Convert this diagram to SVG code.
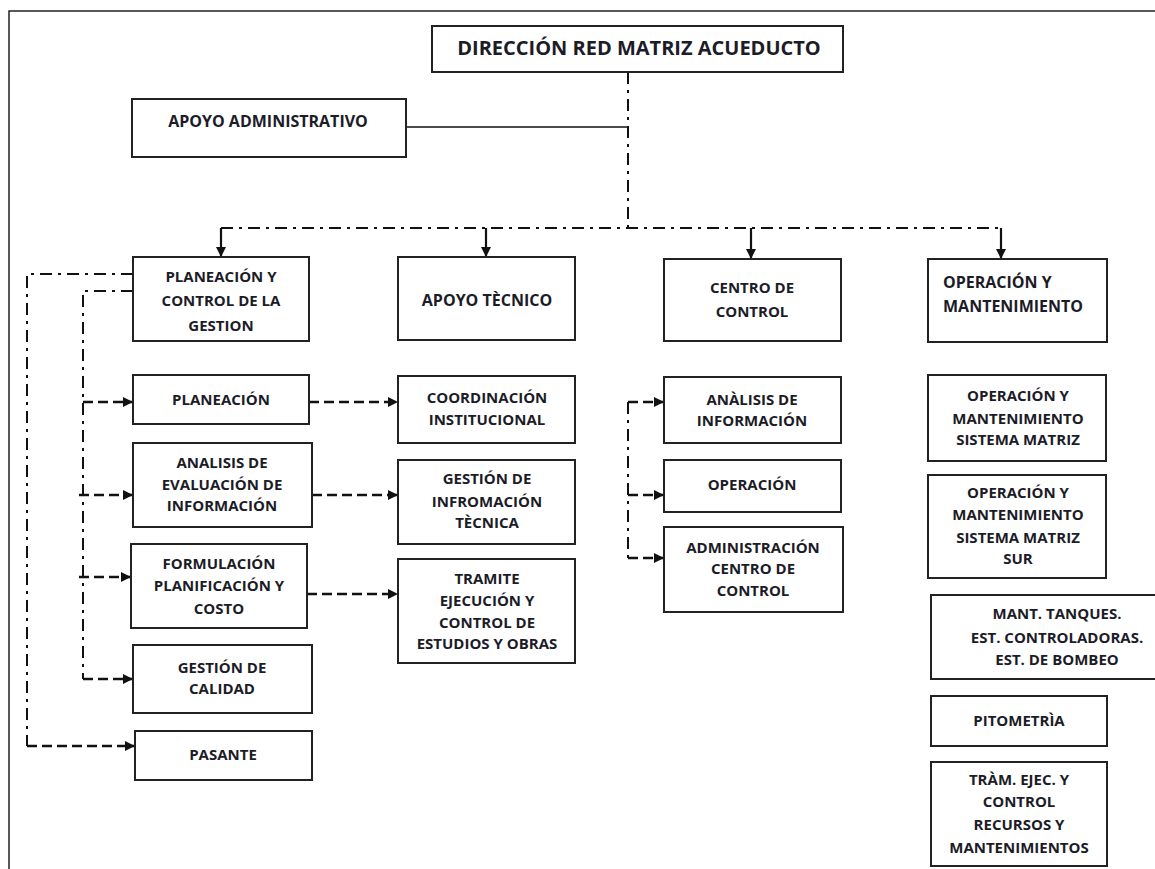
<svg xmlns="http://www.w3.org/2000/svg" width="1155" height="869" viewBox="0 0 1155 869">
<style>
.box{fill:#fff;stroke:#222;stroke-width:2}
.t{font-family:"Open Sans","Liberation Sans",sans-serif;font-weight:700;font-size:15px;fill:#1c1c28;text-anchor:middle}
.title{font-size:20px}
.big{font-size:16px}
.start{text-anchor:start}
.solid{fill:none;stroke:#111;stroke-width:1.6}
.dd{fill:none;stroke:#111;stroke-width:2;stroke-dasharray:12 6 3 6}
.dash{fill:none;stroke:#111;stroke-width:2.6;stroke-dasharray:10 5}
.drop{fill:none;stroke:#111;stroke-width:2.2}
</style>
<defs>
<marker id="ah" markerUnits="userSpaceOnUse" markerWidth="11" markerHeight="10" refX="10" refY="5" orient="auto">
<path d="M0,0 L10,5 L0,10 z" fill="#111"/>
</marker>
</defs>
<rect width="1155" height="869" fill="#fff"/>
<path d="M9,869 V11 H1155" fill="none" stroke="#222" stroke-width="1.5"/>

<g id="connectors">
<path class="dd" d="M628,72 V228"/>
<path class="solid" d="M406,127 H628"/>
<path class="dd" d="M221,228 H1001"/>
<path class="drop" d="M221,228 V257" marker-end="url(#ah)"/>
<path class="drop" d="M486,228 V257" marker-end="url(#ah)"/>
<path class="drop" d="M751,228 V259" marker-end="url(#ah)"/>
<path class="drop" d="M1001,228 V259" marker-end="url(#ah)"/>
<path class="dd" d="M133,274 H27 V746"/>
<path class="dash" d="M27,746 H135" marker-end="url(#ah)"/>
<path class="dd" d="M133,291 H83 V679"/>
<path class="dash" d="M83,402 H133" marker-end="url(#ah)"/>
<path class="dash" d="M79,495 H133" marker-end="url(#ah)"/>
<path class="dash" d="M79,577 H131" marker-end="url(#ah)"/>
<path class="dash" d="M83,679 H133" marker-end="url(#ah)"/>
<path class="dash" d="M309,402 H398" marker-end="url(#ah)"/>
<path class="dash" d="M312,495 H398" marker-end="url(#ah)"/>
<path class="dash" d="M307,594 H398" marker-end="url(#ah)"/>
<path class="dd" d="M628,402 V558"/>
<path class="dash" d="M628,402 H664" marker-end="url(#ah)"/>
<path class="dash" d="M628,495 H664" marker-end="url(#ah)"/>
<path class="dash" d="M628,558 H664" marker-end="url(#ah)"/>
</g>

<g id="direccion"><rect class="box" x="432" y="26" width="411" height="46"/><text class="t title" x="639" y="55">DIRECCIÓN RED MATRIZ ACUEDUCTO</text></g>
<g id="apoyo-admin"><rect class="box" x="132" y="99" width="274" height="58"/><text class="t big" x="268" y="127">APOYO ADMINISTRATIVO</text></g>

<g id="planeacion-control"><rect class="box" x="133" y="257" width="176" height="84"/><text class="t" x="221" y="282">PLANEACIÓN Y</text><text class="t" x="221" y="306">CONTROL DE LA</text><text class="t" x="221" y="331">GESTION</text></g>
<g id="apoyo-tecnico"><rect class="box" x="398" y="257" width="177" height="83"/><text class="t big" x="487" y="306">APOYO TÈCNICO</text></g>
<g id="centro-control"><rect class="box" x="664" y="259" width="177" height="82"/><text class="t" x="752" y="293">CENTRO DE</text><text class="t" x="752" y="317">CONTROL</text></g>
<g id="operacion-mant"><rect class="box" x="928" y="259" width="179" height="83"/><text class="t big start" x="943" y="288">OPERACIÓN Y</text><text class="t big start" x="943" y="312">MANTENIMIENTO</text></g>

<g id="planeacion"><rect class="box" x="133" y="375" width="176" height="49"/><text class="t" x="221" y="405">PLANEACIÓN</text></g>
<g id="analisis-evaluacion"><rect class="box" x="133" y="443" width="179" height="84"/><text class="t" x="222" y="468">ANALISIS DE</text><text class="t" x="222" y="490">EVALUACIÓN DE</text><text class="t" x="222" y="511">INFORMACIÓN</text></g>
<g id="formulacion"><rect class="box" x="131" y="544" width="176" height="84"/><text class="t" x="219" y="569">FORMULACIÓN</text><text class="t" x="219" y="591">PLANIFICACIÓN Y</text><text class="t" x="219" y="614">COSTO</text></g>
<g id="gestion-calidad"><rect class="box" x="133" y="645" width="179" height="68"/><text class="t" x="222" y="673">GESTIÓN DE</text><text class="t" x="222" y="694">CALIDAD</text></g>
<g id="pasante"><rect class="box" x="135" y="731" width="177" height="49"/><text class="t" x="223" y="760">PASANTE</text></g>

<g id="coordinacion"><rect class="box" x="398" y="376" width="177" height="67"/><text class="t" x="487" y="403">COORDINACIÓN</text><text class="t" x="487" y="425">INSTITUCIONAL</text></g>
<g id="gestion-info"><rect class="box" x="398" y="460" width="177" height="84"/><text class="t" x="487" y="484">GESTIÓN DE</text><text class="t" x="487" y="507">INFROMACIÓN</text><text class="t" x="487" y="528">TÈCNICA</text></g>
<g id="tramite"><rect class="box" x="398" y="559" width="177" height="104"/><text class="t" x="487" y="584">TRAMITE</text><text class="t" x="487" y="606">EJECUCIÓN Y</text><text class="t" x="487" y="628">CONTROL DE</text><text class="t" x="487" y="649">ESTUDIOS Y OBRAS</text></g>

<g id="analisis-info"><rect class="box" x="664" y="377" width="177" height="66"/><text class="t" x="752" y="405">ANÀLISIS DE</text><text class="t" x="752" y="426">INFORMACIÓN</text></g>
<g id="operacion"><rect class="box" x="664" y="460" width="177" height="52"/><text class="t" x="752" y="490">OPERACIÓN</text></g>
<g id="admin-centro"><rect class="box" x="664" y="527" width="179" height="85"/><text class="t" x="753" y="553">ADMINISTRACIÓN</text><text class="t" x="753" y="574">CENTRO DE</text><text class="t" x="753" y="596">CONTROL</text></g>

<g id="oym-matriz"><rect class="box" x="928" y="375" width="178" height="86"/><text class="t" x="1018" y="401">OPERACIÓN Y</text><text class="t" x="1018" y="424">MANTENIMIENTO</text><text class="t" x="1018" y="445">SISTEMA MATRIZ</text></g>
<g id="oym-sur"><rect class="box" x="928" y="475" width="178" height="103"/><text class="t" x="1018" y="498">OPERACIÓN Y</text><text class="t" x="1018" y="520">MANTENIMIENTO</text><text class="t" x="1018" y="543">SISTEMA MATRIZ</text><text class="t" x="1018" y="564">SUR</text></g>
<g id="mant-tanques"><rect class="box" x="931" y="595" width="235" height="84"/><text class="t" x="1057" y="619">MANT. TANQUES.</text><text class="t" x="1057" y="643">EST. CONTROLADORAS.</text><text class="t" x="1057" y="665">EST. DE BOMBEO</text></g>
<g id="pitometria"><rect class="box" x="931" y="696" width="176" height="50"/><text class="t" x="1019" y="726">PITOMETRÌA</text></g>
<g id="tram-ejec"><rect class="box" x="931" y="762" width="176" height="104"/><text class="t" x="1019" y="785">TRÀM. EJEC. Y</text><text class="t" x="1019" y="807">CONTROL</text><text class="t" x="1019" y="830">RECURSOS Y</text><text class="t" x="1019" y="853">MANTENIMIENTOS</text></g>
</svg>
